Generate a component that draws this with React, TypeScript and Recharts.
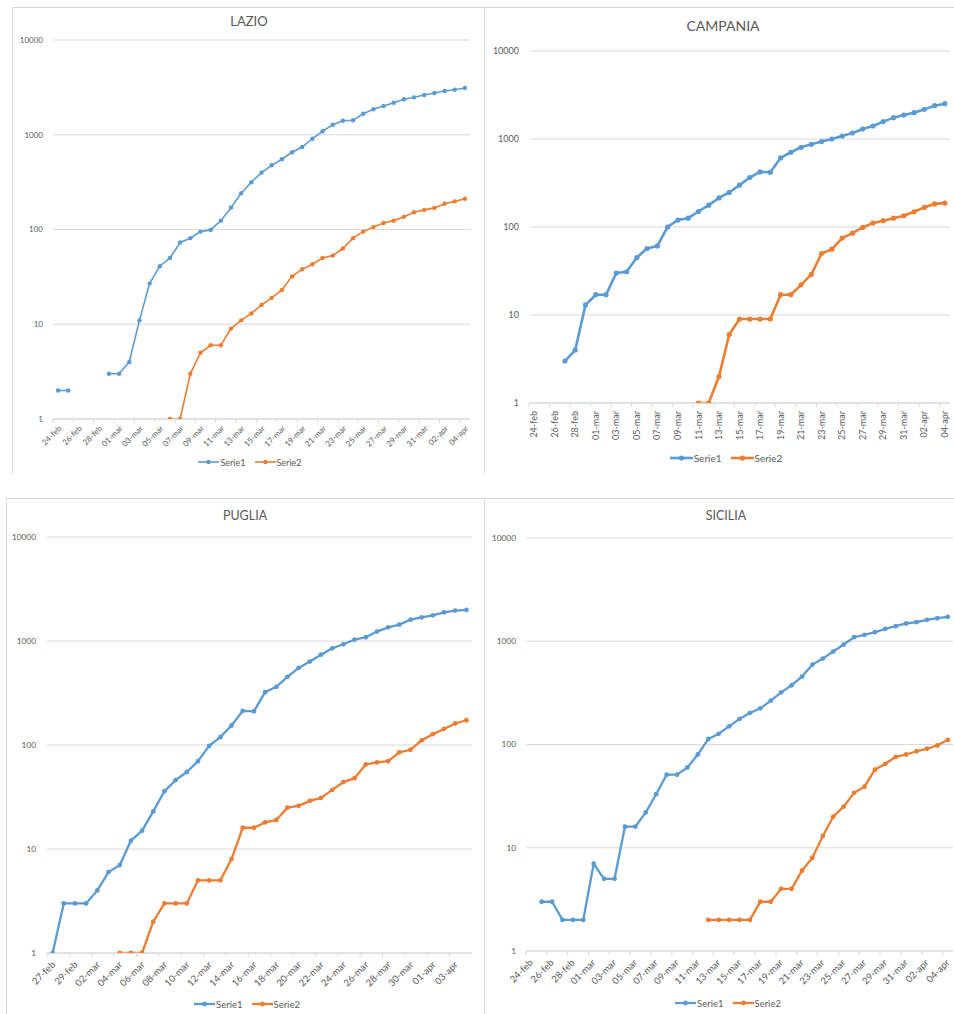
import React from "react";
import { LineChart, Line, XAxis, YAxis, CartesianGrid, Legend } from "recharts";

// daily categories, 24 Feb – 4 Apr 2020
const days = [
  "24-feb", "25-feb", "26-feb", "27-feb", "28-feb", "29-feb",
  "01-mar", "02-mar", "03-mar", "04-mar", "05-mar", "06-mar", "07-mar", "08-mar",
  "09-mar", "10-mar", "11-mar", "12-mar", "13-mar", "14-mar", "15-mar", "16-mar",
  "17-mar", "18-mar", "19-mar", "20-mar", "21-mar", "22-mar", "23-mar", "24-mar",
  "25-mar", "26-mar", "27-mar", "28-mar", "29-mar", "30-mar", "31-mar",
  "01-apr", "02-apr", "03-apr", "04-apr",
];
// Puglia starts on 27 Feb
const pugliaDays = days.slice(3);

const yTicks = [1, 10, 100, 1000, 10000];

const lazioSerie1 = [
  2, 2, null, null, null, 3, 3, 4, 11, 27, 41, 50, 73, 81, 95, 99, 124, 170, 241, 315, 398,
  476, 551, 653, 742, 908, 1087, 1276, 1406, 1420, 1667, 1857, 2011, 2180, 2366, 2483, 2628,
  2756, 2895, 2989, 3115,
];
const lazioSerie2 = [
  null, null, null, null, null, null, null, null, null, null, null, 1, 1, 3, 5, 6, 6, 9, 11,
  13, 16, 19, 23, 32, 38, 43, 50, 53, 63, 81, 95, 106, 117, 124, 136, 152, 161, 169, 187,
  198, 211,
];

const campaniaSerie1 = [
  null, null, null, 3, 4, 13, 17, 17, 30, 31, 45, 57, 61, 100, 120, 126, 150, 177, 214, 247,
  299, 365, 423, 419, 609, 707, 805, 871, 934, 1000, 1082, 1170, 1299, 1405, 1576, 1749, 1873,
  1990, 2172, 2390, 2520,
];
const campaniaSerie2 = [
  null, null, null, null, null, null, null, null, null, null, null, null, null, null, null,
  null, 1, 1, 2, 6, 9, 9, 9, 9, 17, 17, 22, 29, 50, 56, 75, 85, 99, 111, 118, 126, 134, 149,
  167, 183, 187,
];

const pugliaSerie1 = [
  1, 3, 3, 3, 4, 6, 7, 12, 15, 23, 36, 46, 55, 70, 98, 119, 154, 213, 211, 322, 362, 452, 551,
  634, 739, 851, 930, 1031, 1086, 1232, 1353, 1436, 1604, 1690, 1767, 1888, 1960, 1990,
];
const pugliaSerie2 = [
  null, null, null, null, null, null, 1, 1, 1, 2, 3, 3, 3, 5, 5, 5, 8, 16, 16, 18, 19, 25, 26,
  29, 31, 37, 44, 48, 65, 68, 70, 85, 90, 111, 127, 143, 161, 173,
];

const siciliaSerie1 = [
  null, 3, 3, 2, 2, 2, 7, 5, 5, 16, 16, 22, 33, 51, 51, 60, 80, 113, 127, 150, 177, 202, 224,
  266, 320, 375, 455, 595, 679, 795, 929, 1094, 1153, 1223, 1318, 1399, 1486, 1529, 1612, 1671,
  1723,
];
const siciliaSerie2 = [
  null, null, null, null, null, null, null, null, null, null, null, null, null, null, null,
  null, null, 2, 2, 2, 2, 2, 3, 3, 4, 4, 6, 8, 13, 20, 25, 34, 39, 57, 65, 76, 80, 86, 91, 98,
  111,
];

const BLUE = "#5B9BD5";
const ORANGE = "#ED7D31";
const GRID = "#D9D9D9";
const TEXT = "#595959";

type Box = { x: number; y: number; w: number; h: number };
type Plot = { left: number; top: number; right: number; bottom: number };

interface PanelProps {
  title: string;
  labels: string[];
  serie1: (number | null)[];
  serie2: (number | null)[];
  box: Box;
  plot: Plot;
  titleX: number;
  titleY: number;
  titleSize: number;
  yFont: number;
  xFont: number;
  yGap: number;
  angle: number;
  labelDx: number;
  labelDy: number;
  lineWidth: number;
  dotR: number;
  legend: { cx: number; cy: number; fontSize: number; lineLen: number; gap: number };
}

// category label centred on its day, tick mark on the band edge
function DayTick(props: any) {
  const { x, y, payload, labels, step, angle, fontSize, dx, dy } = props;
  const text = labels[payload.value];
  const edge = x - step / 2;
  const ax = x + dx;
  const ay = y + dy;
  return (
    <g>
      <line x1={edge} y1={y} x2={edge} y2={y + 4} stroke={GRID} />
      <text
        x={ax}
        y={ay}
        transform={`rotate(${angle} ${ax} ${ay})`}
        textAnchor="end"
        dy="0.35em"
        fontSize={fontSize}
        fill={TEXT}
      >
        {text}
      </text>
    </g>
  );
}

function LegendRow({ lg, dotR, lineWidth }: { lg: PanelProps["legend"]; dotR: number; lineWidth: number }) {
  const items = [
    { name: "Serie1", color: BLUE },
    { name: "Serie2", color: ORANGE },
  ];
  return (
    <div
      style={{
        display: "flex",
        justifyContent: "center",
        alignItems: "center",
        height: 16,
        fontSize: lg.fontSize,
        color: TEXT,
      }}
    >
      {items.map((it, k) => (
        <span
          key={it.name}
          style={{ display: "inline-flex", alignItems: "center", marginLeft: k ? lg.gap : 0 }}
        >
          <svg width={lg.lineLen} height={10}>
            <line x1={0} y1={5} x2={lg.lineLen} y2={5} stroke={it.color} strokeWidth={lineWidth} />
            <circle cx={lg.lineLen / 2} cy={5} r={dotR} fill={it.color} />
          </svg>
          <span style={{ marginLeft: 1 }}>{it.name}</span>
        </span>
      ))}
    </div>
  );
}

function Panel(p: PanelProps) {
  const { box, plot } = p;
  const n = p.labels.length;
  const rows = p.labels.map((day, i) => ({ i, day, s1: p.serie1[i], s2: p.serie2[i] }));
  const step = (plot.right - plot.left) / n;
  const tickIdx = p.labels.map((_, i) => i).filter((i) => i % 2 === 0);
  const legendH = 16;
  const marginBottom = box.y + box.h - p.legend.cy - legendH / 2;
  const xAxisH = box.y + box.h - plot.bottom - marginBottom - legendH;

  return (
    <div style={{ position: "absolute", left: box.x, top: box.y, width: box.w, height: box.h }}>
      <LineChart
        width={box.w}
        height={box.h}
        data={rows}
        margin={{
          top: plot.top - box.y,
          right: box.x + box.w - plot.right,
          bottom: marginBottom,
          left: 0,
        }}
      >
        <CartesianGrid vertical={false} stroke={GRID} />
        <XAxis
          type="number"
          dataKey="i"
          domain={[-0.5, n - 0.5]}
          ticks={tickIdx}
          interval={0}
          tickSize={0}
          tickMargin={0}
          tickLine={false}
          axisLine={{ stroke: GRID }}
          height={xAxisH}
          tick={(tp: any) => (
            <DayTick
              {...tp}
              labels={p.labels}
              step={step}
              angle={p.angle}
              fontSize={p.xFont}
              dx={p.labelDx}
              dy={p.labelDy}
            />
          )}
        />
        <YAxis
          type="number"
          scale="log"
          domain={[1, 10000]}
          ticks={yTicks}
          interval={0}
          allowDataOverflow
          axisLine={false}
          tickLine={false}
          tickSize={0}
          tickMargin={p.yGap}
          width={plot.left - box.x}
          tick={{ fontSize: p.yFont, fill: TEXT }}
        />
        <Legend
          verticalAlign="bottom"
          wrapperStyle={{ left: p.legend.cx - box.x - 150, width: 300, height: legendH }}
          content={() => <LegendRow lg={p.legend} dotR={p.dotR} lineWidth={p.lineWidth} />}
        />
        <Line
          type="linear"
          dataKey="s1"
          name="Serie1"
          stroke={BLUE}
          strokeWidth={p.lineWidth}
          dot={{ r: p.dotR, fill: BLUE, stroke: BLUE, strokeWidth: 0 }}
          activeDot={false}
          isAnimationActive={false}
        />
        <Line
          type="linear"
          dataKey="s2"
          name="Serie2"
          stroke={ORANGE}
          strokeWidth={p.lineWidth}
          dot={{ r: p.dotR, fill: ORANGE, stroke: ORANGE, strokeWidth: 0 }}
          activeDot={false}
          isAnimationActive={false}
        />
      </LineChart>
      <div
        style={{
          position: "absolute",
          left: p.titleX - box.x,
          top: p.titleY - box.y,
          transform: "translate(-50%, -50%)",
          fontSize: p.titleSize,
          lineHeight: 1,
          color: TEXT,
          whiteSpace: "nowrap",
        }}
      >
        {p.title}
      </div>
      <div
        style={{
          position: "absolute",
          inset: 0,
          borderTop: `1px solid ${GRID}`,
          borderLeft: `1px solid ${GRID}`,
          pointerEvents: "none",
        }}
      />
    </div>
  );
}

export default function App() {
  return (
    <div
      style={{
        position: "absolute",
        left: 0,
        top: 0,
        width: 954,
        height: 1014,
        background: "#fff",
        fontFamily: "Lato, 'Open Sans', sans-serif",
        overflow: "hidden",
      }}
    >
      <Panel
        title="LAZIO"
        labels={days}
        serie1={lazioSerie1}
        serie2={lazioSerie2}
        box={{ x: 12, y: 7, w: 472, h: 467 }}
        plot={{ left: 53, top: 40, right: 470, bottom: 419 }}
        titleX={249}
        titleY={21}
        titleSize={13}
        yFont={8}
        xFont={8}
        yGap={10}
        angle={-45}
        labelDx={2}
        labelDy={8}
        lineWidth={1.6}
        dotR={2.2}
        legend={{ cx: 250, cy: 462, fontSize: 9, lineLen: 21, gap: 9 }}
      />
      <Panel
        title="CAMPANIA"
        labels={days}
        serie1={campaniaSerie1}
        serie2={campaniaSerie2}
        box={{ x: 484, y: 7, w: 470, h: 466 }}
        plot={{ left: 529, top: 51, right: 950, bottom: 403 }}
        titleX={723}
        titleY={26}
        titleSize={14}
        yFont={9}
        xFont={9}
        yGap={10}
        angle={-90}
        labelDx={0}
        labelDy={8}
        lineWidth={2.6}
        dotR={2.6}
        legend={{ cx: 726, cy: 458, fontSize: 10, lineLen: 23, gap: 9 }}
      />
      <Panel
        title="PUGLIA"
        labels={pugliaDays}
        serie1={pugliaSerie1}
        serie2={pugliaSerie2}
        box={{ x: 6, y: 498, w: 478, h: 516 }}
        plot={{ left: 47, top: 537, right: 472, bottom: 953 }}
        titleX={245}
        titleY={516}
        titleSize={12.5}
        yFont={8.3}
        xFont={9.5}
        yGap={11}
        angle={-45}
        labelDx={1}
        labelDy={10}
        lineWidth={2.3}
        dotR={2.4}
        legend={{ cx: 247, cy: 1004, fontSize: 9.5, lineLen: 21, gap: 9 }}
      />
      <Panel
        title="SICILIA"
        labels={days}
        serie1={siciliaSerie1}
        serie2={siciliaSerie2}
        box={{ x: 484, y: 498, w: 470, h: 516 }}
        plot={{ left: 526, top: 538, right: 953, bottom: 951 }}
        titleX={726}
        titleY={516}
        titleSize={12.5}
        yFont={8.3}
        xFont={9.5}
        yGap={10}
        angle={-45}
        labelDx={0}
        labelDy={10}
        lineWidth={2.3}
        dotR={2.4}
        legend={{ cx: 728, cy: 1003, fontSize: 9.5, lineLen: 21, gap: 9 }}
      />
    </div>
  );
}
